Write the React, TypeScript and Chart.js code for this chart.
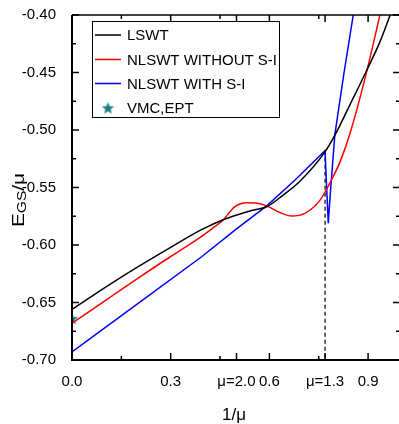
import React, { useEffect, useRef } from "react";
import { Chart, registerables } from "chart.js";
Chart.register(...registerables);

const MU20 = 1 / 2.0;
const MU13 = 1 / 1.3;

// LSWT (black)
const lswtX = [0, 0.1, 0.2, 0.3, 0.395, 0.46, 0.546, 0.592, 0.64, 0.693, 0.769, 0.8, 0.845, 0.896, 0.935, 0.967, 0.994];
const lswtY = [-0.656, -0.637, -0.619, -0.602, -0.5864, -0.578, -0.57, -0.5667, -0.557, -0.5445, -0.519, -0.504, -0.478, -0.448, -0.424, -0.4, -0.378];

// NLSWT without S-I (red)
const noSiX = [0, 0.1, 0.2, 0.3, 0.374, 0.42, 0.46, 0.495, 0.531, 0.56, 0.592, 0.63, 0.668, 0.708, 0.754, 0.784, 0.815, 0.845, 0.896, 0.936, 0.95];
const noSiY = [-0.668, -0.6486, -0.629, -0.61, -0.5965, -0.587, -0.578, -0.5667, -0.5632, -0.5635, -0.566, -0.5715, -0.5748, -0.5725, -0.561, -0.546, -0.5275, -0.503, -0.449, -0.4, -0.383];

// NLSWT with S-I (blue)
const withSiX = [0, 0.2, 0.395, 0.5, 0.592, 0.678, 0.769, 0.779, 0.785, 0.799, 0.827, 0.855, 0.87];
const withSiY = [-0.693, -0.651, -0.61, -0.586, -0.566, -0.5435, -0.518, -0.581, -0.556, -0.504, -0.45, -0.4, -0.373];

// VMC, EPT (star)
const vmcX = [0];
const vmcY = [-0.664];

// dashed marker at mu = 1.3
const dashX = [MU13, MU13];
const dashY = [-0.518, -0.7];

const xMajorTicks = [0, 0.3, MU20, 0.6, MU13, 0.9];
const xTickLabels = ["0.0", "0.3", "\u03bc=2.0", "0.6", "\u03bc=1.3", "0.9"];
const xMinorTicks = [0.15, 0.45, 0.75];
const yMajorTicks = [-0.7, -0.65, -0.6, -0.55, -0.5, -0.45, -0.4];
const yMinorTicks = [-0.675, -0.625, -0.575, -0.525, -0.475, -0.425];

const legendLabels = ["LSWT", "NLSWT WITHOUT S-I", "NLSWT WITH S-I", "VMC,EPT"];
const colors = ["#000000", "#ff0000", "#0000ff", "#148080"];

const FONT = '"Liberation Sans Narrow", "Arial Narrow", "Liberation Sans", Arial, sans-serif';
const WIDE = '"Liberation Sans", Arial, sans-serif';

function makeStar(size: number, color: string) {
  const c = document.createElement("canvas");
  c.width = size;
  c.height = size;
  const g = c.getContext("2d")!;
  const cx = size / 2, cy = size / 2 + 0.5;
  const R = size / 2, r = R * 0.42;
  g.beginPath();
  for (let i = 0; i < 10; i++) {
    const rad = i % 2 === 0 ? R : r;
    const a = -Math.PI / 2 + (i * Math.PI) / 5;
    const px = cx + rad * Math.cos(a);
    const py = cy + rad * Math.sin(a);
    if (i === 0) g.moveTo(px, py);
    else g.lineTo(px, py);
  }
  g.closePath();
  g.fillStyle = color;
  g.fill();
  return c;
}

const zip = (xs: number[], ys: number[]) => xs.map((x, i) => ({ x, y: ys[i] }));

export default function App() {
  const ref = useRef<HTMLCanvasElement>(null);
  useEffect(() => {
    const star = makeStar(13, colors[3]);
    const framePlugin = {
      id: "frame",
      afterDraw(chart: any) {
        const { ctx, chartArea } = chart;
        const { left, right, top, bottom } = chartArea;
        const xs = chart.scales.x;
        const ys = chart.scales.y;
        ctx.save();
        ctx.strokeStyle = "#000";
        ctx.lineWidth = 1.5;
        const line = (x1: number, y1: number, x2: number, y2: number) => {
          ctx.beginPath();
          ctx.moveTo(x1, y1);
          ctx.lineTo(x2, y2);
          ctx.stroke();
        };
        xMajorTicks.forEach((v) => {
          const p = xs.getPixelForValue(v);
          line(p, bottom, p, bottom - 7);
          line(p, top, p, top + 7);
        });
        xMinorTicks.forEach((v) => {
          const p = xs.getPixelForValue(v);
          line(p, bottom, p, bottom - 4);
          line(p, top, p, top + 4);
        });
        yMajorTicks.forEach((v) => {
          const p = ys.getPixelForValue(v);
          line(left, p, left + 7, p);
          line(right, p, right - 6, p);
        });
        yMinorTicks.forEach((v) => {
          const p = ys.getPixelForValue(v);
          line(left, p, left + 4, p);
          line(right, p, right - 3, p);
        });
        // frame
        ctx.lineWidth = 2;
        line(left, top, left, bottom + 1);
        line(left - 1, bottom, right, bottom);
        ctx.lineWidth = 1.5;
        line(left, top, right, top);

        // legend
        const lx = 92, ly = 21, lw = 187, lh = 96;
        ctx.fillStyle = "#fff";
        ctx.fillRect(lx, ly, lw, lh);
        ctx.lineWidth = 1;
        ctx.strokeRect(lx + 0.5, ly + 0.5, lw, lh);
        ctx.font = "15px " + FONT;
        ctx.textBaseline = "middle";
        ctx.textAlign = "left";
        const rows = [35, 59.5, 83.5, 108];
        legendLabels.forEach((lab, i) => {
          const yy = rows[i];
          if (i < 3) {
            ctx.strokeStyle = colors[i];
            ctx.lineWidth = 1.5;
            line(95, yy, 121, yy);
          } else {
            ctx.drawImage(star, 108 - 6.5, yy - 6.5);
          }
          ctx.fillStyle = "#000";
          ctx.fillText(lab, 127, yy + 1);
        });

        // axis titles
        ctx.fillStyle = "#000";
        ctx.textAlign = "center";
        ctx.textBaseline = "middle";
        ctx.font = "17px " + FONT;
        ctx.fillText("1/\u03bc", 234, 415);

        ctx.save();
        ctx.translate(24, 200);
        ctx.rotate(-Math.PI / 2);
        ctx.scale(1.3, 1);
        ctx.textAlign = "left";
        ctx.textBaseline = "alphabetic";
        const big = "16px " + WIDE;
        const small = "12px " + WIDE;
        ctx.font = big;
        const wE = ctx.measureText("E").width;
        ctx.font = small;
        const wGS = ctx.measureText("GS").width;
        ctx.font = big;
        const wMu = ctx.measureText("/\u03bc").width;
        const total = wE + wGS + wMu;
        let cx = -total / 2;
        ctx.font = big;
        ctx.fillText("E", cx, 0);
        cx += wE;
        ctx.font = small;
        ctx.fillText("GS", cx, 2);
        cx += wGS;
        ctx.font = big;
        ctx.fillText("/\u03bc", cx, 0);
        ctx.restore();

        ctx.restore();
      },
    };

    const chart = new Chart(ref.current!, {
      type: "line",
      data: {
        datasets: [
          {
            label: legendLabels[0],
            data: zip(lswtX, lswtY),
            borderColor: colors[0],
            borderWidth: 1.5,
            pointRadius: 0,
            cubicInterpolationMode: "monotone",
          },
          {
            label: legendLabels[1],
            data: zip(noSiX, noSiY),
            borderColor: colors[1],
            borderWidth: 1.5,
            pointRadius: 0,
            cubicInterpolationMode: "monotone",
          },
          {
            label: legendLabels[2],
            data: zip(withSiX, withSiY),
            borderColor: colors[2],
            borderWidth: 1.5,
            pointRadius: 0,
            tension: 0,
          },
          {
            label: "dash",
            data: zip(dashX, dashY),
            borderColor: "#000",
            borderWidth: 1.2,
            borderDash: [4, 3],
            pointRadius: 0,
            tension: 0,
          },
          {
            label: legendLabels[3],
            data: zip(vmcX, vmcY),
            showLine: false,
            pointStyle: star as any,
            pointRadius: 6,
            borderColor: colors[3],
            backgroundColor: colors[3],
          },
        ],
      },
      options: {
        responsive: false,
        animation: false,
        events: [],
        layout: { autoPadding: false, padding: { top: 15, right: 0, left: 0, bottom: 0 } },
        plugins: { legend: { display: false }, tooltip: { enabled: false } },
        scales: {
          x: {
            type: "linear",
            min: 0,
            max: 0.994,
            grid: { display: false },
            border: { display: false },
            afterBuildTicks: (s: any) => {
              s.ticks = xMajorTicks.map((v) => ({ value: v }));
            },
            afterFit: (s: any) => {
              s.height = 64;
              s.paddingLeft = 0;
              s.paddingRight = 0;
            },
            ticks: {
              autoSkip: false,
              maxRotation: 0,
              padding: 5,
              color: "#000",
              font: { size: 15, family: FONT },
              callback: (_v: any, i: number) => xTickLabels[i],
            },
          },
          y: {
            type: "linear",
            min: -0.7,
            max: -0.4,
            grid: { display: false },
            border: { display: false },
            afterBuildTicks: (s: any) => {
              s.ticks = yMajorTicks.map((v) => ({ value: v }));
            },
            afterFit: (s: any) => {
              s.width = 72;
              s.paddingTop = 0;
              s.paddingBottom = 0;
            },
            ticks: {
              padding: 8,
              color: "#000",
              font: { size: 15, family: FONT },
              callback: (v: any) => Number(v).toFixed(2),
            },
          },
        },
      },
      plugins: [framePlugin],
    });
    return () => chart.destroy();
  }, []);
  return (
    <div style={{ position: "absolute", left: 0, top: 0, width: 399, height: 424, background: "#fff" }}>
      <canvas ref={ref} width={399} height={424} style={{ display: "block" }} />
    </div>
  );
}
